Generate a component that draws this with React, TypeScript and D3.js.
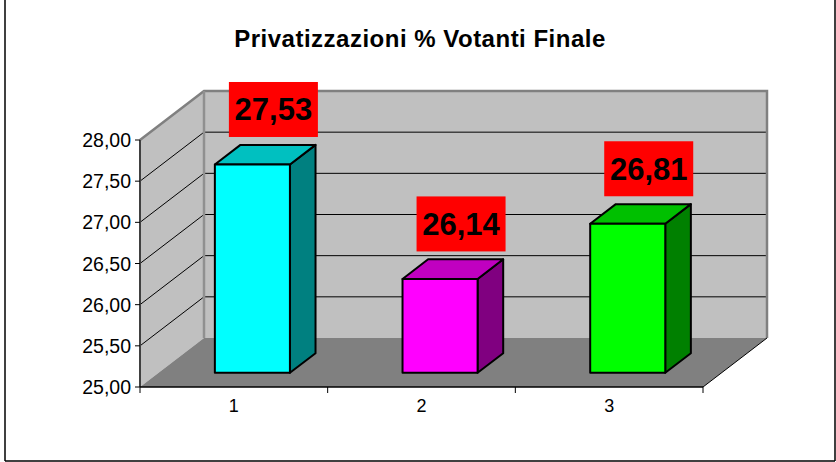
import React from "react";
import * as d3 from "d3";

const categories = ["1", "2", "3"];
const values = [27.53, 26.14, 26.81];
const valueLabels = ["27,53", "26,14", "26,81"];
const yTicks = [25, 25.5, 26, 26.5, 27, 27.5, 28];
const yTickLabels = ["25,00", "25,50", "26,00", "26,50", "27,00", "27,50", "28,00"];
const title = "Privatizzazioni % Votanti Finale";

const frontColors = ["#00FFFF", "#FF00FF", "#00FF00"];
const topColors = ["#00C0C0", "#C000C0", "#00C000"];
const sideColors = ["#008080", "#800080", "#008000"];

const W = 836;
const H = 462;
const DX = 64;
const DY = -49;
const FONT = "'Liberation Sans', Arial, sans-serif";

export default function App() {
  const x = d3.scaleBand<string>().domain(categories).range([140, 703]).padding(0);
  const y = d3.scaleLinear().domain([25, 28]).range([387, 140]);
  const step = x.step();
  const bw = step * 0.4;
  const d0 = 0.29;
  const d1 = 0.69;

  const x0 = 140, x1 = 703;
  const yb = y(25), yt = y(28);
  const pts = (arr: number[][]) => arr.map((p) => p.join(",")).join(" ");

  return (
    <svg width={W} height={H} style={{ position: "absolute", left: 0, top: 0 }}>
      <rect x={0} y={0} width={W} height={H} fill="#fff" />
      {/* outer border */}
      <line x1={5} y1={0} x2={5} y2={461} stroke="#000" strokeWidth={1.5} />
      <line x1={835} y1={0} x2={835} y2={461} stroke="#000" strokeWidth={1.5} />
      <line x1={5} y1={461} x2={835} y2={461} stroke="#000" strokeWidth={1.5} />

      <text x={420} y={47} textAnchor="middle" fontFamily={FONT} fontWeight="bold" fontSize={24} letterSpacing={0.5} fill="#000">
        {title}
      </text>

      {/* back wall */}
      <rect x={x0 + DX} y={yt + DY} width={x1 - x0} height={yb - yt} fill="#C0C0C0" />
      {/* left wall */}
      <polygon points={pts([[x0, yt], [x0 + DX, yt + DY], [x0 + DX, yb + DY], [x0, yb]])} fill="#C0C0C0" />
      {/* floor */}
      <polygon points={pts([[x0, yb], [x0 + DX, yb + DY], [x1 + DX, yb + DY], [x1, yb]])} fill="#808080" />

      {/* gridlines */}
      {yTicks.slice(1, -1).map((v) => (
        <g key={"g" + v}>
          <line x1={x0 + DX} x2={x1 + DX} y1={y(v) + DY} y2={y(v) + DY} stroke="#000" strokeWidth={1} />
          <line x1={x0} y1={y(v)} x2={x0 + DX} y2={y(v) + DY} stroke="#000" strokeWidth={1} />
        </g>
      ))}

      {/* wall edges */}
      <polyline
        points={pts([[x0, yt], [x0 + DX, yt + DY], [x1 + DX, yt + DY], [x1 + DX, yb + DY]])}
        fill="none"
        stroke="#808080"
        strokeWidth={2.5}
      />
      <line x1={x0 + DX} y1={yt + DY} x2={x0 + DX} y2={yb + DY} stroke="#909090" strokeWidth={2.5} />
      <line x1={x1} y1={yb} x2={x1 + DX} y2={yb + DY} stroke="#000" strokeWidth={1} />

      {/* axes */}
      <line x1={x0} y1={yt} x2={x0} y2={yb} stroke="#404040" strokeWidth={2} />
      <line x1={x0} y1={yb} x2={x1} y2={yb} stroke="#000" strokeWidth={1.5} />
      {yTicks.map((v, i) => (
        <g key={"t" + v}>
          <line x1={x0 - 5} x2={x0} y1={y(v)} y2={y(v)} stroke="#000" strokeWidth={1} />
          <text x={131} y={y(v) + 7} textAnchor="end" fontFamily={FONT} fontSize={19.5} fill="#000">
            {yTickLabels[i]}
          </text>
        </g>
      ))}
      {[x0, ...categories.map((c) => (x(c) as number) + step)].map((xx, i) => (
        <line key={"xt" + i} x1={xx} x2={xx} y1={yb} y2={yb + 6} stroke="#000" strokeWidth={1} />
      ))}
      {categories.map((c) => (
        <text key={"xl" + c} x={(x(c) as number) + step / 2} y={yb + 25} textAnchor="middle" fontFamily={FONT} fontSize={18} fill="#000">
          {c}
        </text>
      ))}

      {/* bars */}
      {values.map((v, i) => {
        const cx = (x(categories[i]) as number) + step / 2;
        const fx = cx - bw / 2 + DX * d0;
        const fy0 = y(25) + DY * d0;
        const fy1 = y(v) + DY * d0;
        const ddx = DX * (d1 - d0);
        const ddy = DY * (d1 - d0);
        return (
          <g key={"b" + i} stroke="#000" strokeWidth={2} strokeLinejoin="round">
            <polygon points={pts([[fx + bw, fy1], [fx + bw + ddx, fy1 + ddy], [fx + bw + ddx, fy0 + ddy], [fx + bw, fy0]])} fill={sideColors[i]} />
            <polygon points={pts([[fx, fy1], [fx + ddx, fy1 + ddy], [fx + bw + ddx, fy1 + ddy], [fx + bw, fy1]])} fill={topColors[i]} />
            <rect x={fx} y={fy1} width={bw} height={fy0 - fy1} fill={frontColors[i]} />
          </g>
        );
      })}

      {/* value labels */}
      {values.map((v, i) => {
        const cx = (x(categories[i]) as number) + step / 2 + DX * d0 + 21;
        const cy = y(v) + DY * d0 - 55;
        return (
          <g key={"l" + i}>
            <rect x={cx - 44.5} y={cy - 27.5} width={89} height={55} fill="#FF0000" />
            <text x={cx} y={cy + 11} textAnchor="middle" fontFamily={FONT} fontWeight="bold" fontSize={31} fill="#000">
              {valueLabels[i]}
            </text>
          </g>
        );
      })}
    </svg>
  );
}
